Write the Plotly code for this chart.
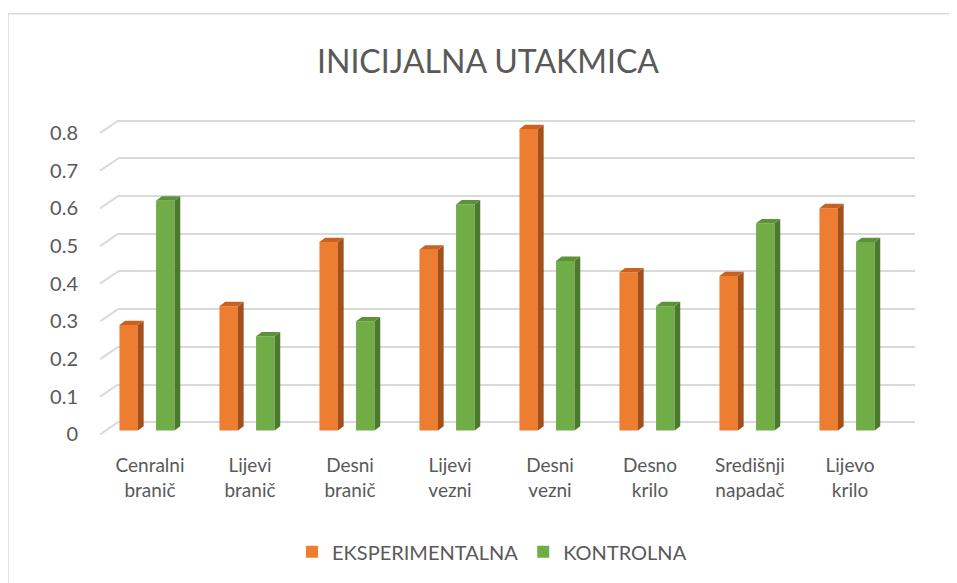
import plotly.graph_objects as go

categories = ["Cenralni<br>branič", "Lijevi<br>branič", "Desni<br>branič", "Lijevi<br>vezni",
              "Desni<br>vezni", "Desno<br>krilo", "Središnji<br>napadač", "Lijevo<br>krilo"]
eksperimentalna = [0.28, 0.33, 0.50, 0.48, 0.80, 0.42, 0.41, 0.59]
kontrolna = [0.61, 0.25, 0.29, 0.60, 0.45, 0.33, 0.55, 0.50]
y_ticks = [0, 0.1, 0.2, 0.3, 0.4, 0.5, 0.6, 0.7, 0.8]
y_tick_text = ["0", "0.1", "0.2", "0.3", "0.4", "0.5", "0.6", "0.7", "0.8"]

FONT = "Lato"
TXT = "#595959"
GRID = "#D9D9D9"

BAR_W = 0.185
OFF = 0.183
DX = 0.057      # 3D depth of bars (x units)
DY = 0.0115     # 3D depth of bars (y units)
GX0, GX1 = -0.47, -0.29
GDY = 0.022     # back wall offset
FDY = 0.0106    # front plane (labels) offset
XR = [-0.47, 7.68]
YR = [-0.02, 0.84]

# page is drawn with an 8px body margin, so work in screen pixels minus 8
PAGE_OFF = 8
W, H = 957 - PAGE_OFF, 583 - PAGE_OFF
SCALE = 376.0           # px per unit value
ZERO_PX = 430           # screen y of value 0 (bar plane)
PLOT_L, PLOT_R = 100, 915
PLOT_T = ZERO_PX - YR[1] * SCALE
PLOT_B = ZERO_PX - YR[0] * SCALE
L, R = PLOT_L - PAGE_OFF, W - (PLOT_R - PAGE_OFF)
T, B = PLOT_T - PAGE_OFF, H - (PLOT_B - PAGE_OFF)
pw, ph = PLOT_R - PLOT_L, PLOT_B - PLOT_T

def px_x(px):
    return (px - PLOT_L) / pw

def px_y(py):
    return (PLOT_B - py) / ph

fig = go.Figure()

# back-wall grid subplot anchor (invisible)
fig.add_trace(go.Scatter(x=[0], y=[0], xaxis="x", yaxis="y", mode="markers",
                         marker=dict(opacity=0), hoverinfo="skip", showlegend=False))

# left diagonal grid segments
for t in y_ticks:
    fig.add_trace(go.Scatter(x=[GX0, GX1], y=[t - FDY, t + GDY], xaxis="x2", yaxis="y2",
                             mode="lines", line=dict(color=GRID, width=2), hoverinfo="skip",
                             showlegend=False, cliponaxis=False))

def add_series(name, vals, shift, front, side, top):
    xs = [i + shift for i in range(len(vals))]
    sx, sy, tx, ty = [], [], [], []
    for c, v in zip(xs, vals):
        r = c + BAR_W / 2
        l = c - BAR_W / 2
        sx += [r, r + DX, r + DX, r, r, None]
        sy += [0, DY, v + DY, v, 0, None]
        tx += [l, r, r + DX, l + DX, l, None]
        ty += [v, v, v + DY, v + DY, v, None]
    fig.add_trace(go.Bar(name=name, x=xs, y=vals, width=BAR_W, xaxis="x2", yaxis="y2",
                         marker=dict(color=front, line=dict(width=0))))
    fig.add_trace(go.Scatter(x=sx, y=sy, xaxis="x2", yaxis="y2", mode="lines", fill="toself",
                             fillcolor=side, line=dict(width=0, color=side),
                             hoverinfo="skip", showlegend=False))
    fig.add_trace(go.Scatter(x=tx, y=ty, xaxis="x2", yaxis="y2", mode="lines", fill="toself",
                             fillcolor=top, line=dict(width=0, color=top),
                             hoverinfo="skip", showlegend=False))

add_series("EKSPERIMENTALNA", eksperimentalna, -OFF, "#ED7D31", "#A0511C", "#C9621F")
add_series("KONTROLNA", kontrolna, OFF, "#70AD47", "#4B7A2C", "#5D923A")

# invisible anchor for label axis
fig.add_trace(go.Scatter(x=[0], y=[0.4], xaxis="x2", yaxis="y3", mode="markers",
                         marker=dict(opacity=0), hoverinfo="skip", showlegend=False))

hidden = dict(showgrid=False, zeroline=False, showticklabels=False, showline=False,
              ticks="", automargin=False)

fig.update_layout(
    width=W, height=H,
    margin=dict(l=L, r=R, t=T, b=B, autoexpand=False),
    paper_bgcolor="white", plot_bgcolor="rgba(0,0,0,0)",
    barmode="overlay",
    font=dict(family=FONT, color=TXT, size=19),
    title=dict(text="INICIJALNA UTAKMICA", x=(488 - PAGE_OFF) / W, xanchor="center",
               y=1 - (62 - PAGE_OFF) / H, yanchor="middle",
               font=dict(family=FONT, size=32, color=TXT)),
    # back wall grid
    xaxis=dict(domain=[px_x(118), 1], range=[0, 1], anchor="y", **hidden),
    yaxis=dict(domain=[0, 1], range=[YR[0] - GDY, YR[1] - GDY], anchor="x",
               tickvals=y_ticks, showgrid=True, gridcolor=GRID, gridwidth=2,
               zeroline=False, showticklabels=False, showline=False, automargin=False),
    # data axes
    xaxis2=dict(domain=[0, 1], range=XR, anchor="y2",
                tickvals=[i + 0.03 for i in range(len(categories))], ticktext=categories,
                showgrid=False, zeroline=False, showline=False, automargin=False,
                ticks="outside", ticklen=18 - (PLOT_B - ZERO_PX), tickcolor="rgba(0,0,0,0)",
                tickfont=dict(size=19, color=TXT)),
    yaxis2=dict(domain=[0, 1], range=YR, anchor="x2", **hidden),
    # front-plane value labels
    yaxis3=dict(range=[YR[0] + FDY, YR[1] + FDY], overlaying="y2", anchor="x2", side="left",
                tickvals=y_ticks, ticktext=y_tick_text,
                showgrid=False, zeroline=False, showline=False, automargin=False,
                ticks="outside", ticklen=17, tickcolor="rgba(0,0,0,0)",
                tickfont=dict(size=20, color=TXT)),
    legend=dict(orientation="h", x=px_x(492), xanchor="center",
                y=px_y(551), yanchor="middle",
                font=dict(size=20, color=TXT), itemwidth=30),
    shapes=[dict(type="rect", xref="paper", yref="paper",
                 x0=px_x(8), x1=px_x(975), y0=px_y(600), y1=px_y(14),
                 line=dict(color=GRID, width=1.5), fillcolor="rgba(0,0,0,0)", layer="below")],
)

fig.write_html("out.html")
